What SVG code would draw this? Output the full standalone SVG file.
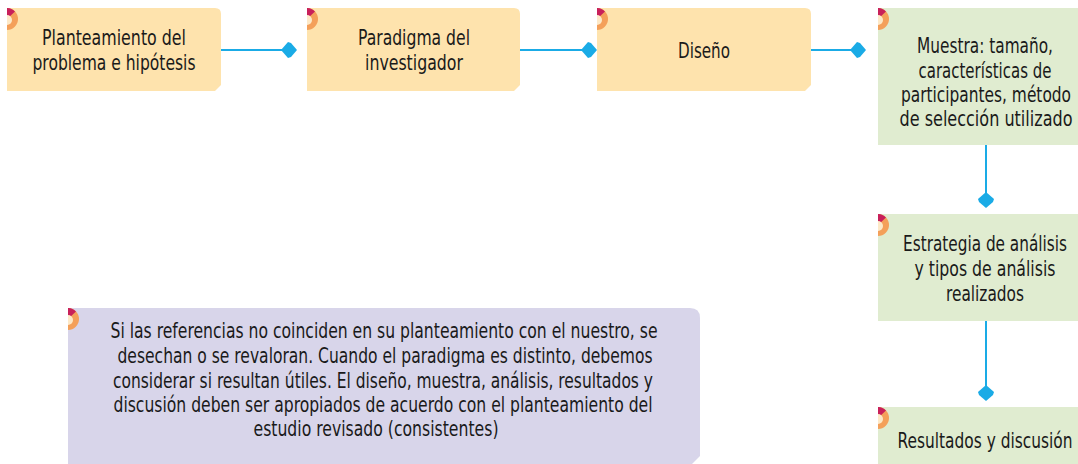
<svg xmlns="http://www.w3.org/2000/svg" width="1078" height="464" viewBox="0 0 1078 464">
<defs>
<style>
.t{font-family:"Liberation Sans Narrow","DejaVu Sans Condensed","Roboto","Liberation Sans",sans-serif;font-stretch:condensed;font-size:22px;fill:#1a1a1a;text-anchor:middle}
.o{fill:#fee3ad}
.g{fill:#e0ecd0}
.p{fill:#d8d5ea}
.c{stroke:#1aabe6;stroke-width:2;fill:none}
.h{fill:#1aabe6}
</style>
<g id="deco">
<circle cx="0" cy="0" r="11" fill="#f4a05a"/>
<path d="M0,0 L-11,0 A11,11 0 0 1 8,-7.5 Z" fill="#c8205a"/>
<circle cx="0" cy="1" r="5" fill="#fde9c8"/>
</g>
<clipPath id="cl"><rect x="0" y="-12" width="14" height="24"/></clipPath>
</defs>
<g id="connectors">
<path class="c" d="M221,50 H284"/>
<path class="h" d="M281,50 L288,42 L291,43 L297,50 L291,57 L288,58 Z"/>
<path class="c" d="M520,50 H584"/>
<path class="h" d="M581,50 L588,42 L591,43 L597,50 L591,57 L588,58 Z"/>
<path class="c" d="M811,50 H853"/>
<path class="h" d="M850,50 L857,42 L860,43 L866,50 L860,57 L857,58 Z"/>
<path class="c" d="M986,145 V195"/>
<path class="h" d="M986,192 L994,199 L993,202 L986,208 L979,202 L978,199 Z"/>
<path class="c" d="M986,321 V388"/>
<path class="h" d="M986,385 L994,392 L993,395 L986,401 L979,395 L978,392 Z"/>
</g>
<g id="n1">
<path class="o" d="M7,8 H215 Q221,8 221,14 V85 L215,91 H7 Z"/>
<use href="#deco" x="7" y="19" clip-path="url(#cl)"/>
<text class="t" x="114" y="45" textLength="144" lengthAdjust="spacingAndGlyphs">Planteamiento del</text>
<text class="t" x="114" y="70" textLength="163" lengthAdjust="spacingAndGlyphs">problema e hipótesis</text>
</g>
<g id="n2">
<path class="o" d="M307,8 H514 Q520,8 520,14 V85 L514,91 H307 Z"/>
<use href="#deco" x="307" y="19" clip-path="url(#cl)"/>
<text class="t" x="414" y="45" textLength="112" lengthAdjust="spacingAndGlyphs">Paradigma del</text>
<text class="t" x="414" y="70" textLength="98" lengthAdjust="spacingAndGlyphs">investigador</text>
</g>
<g id="n3">
<path class="o" d="M597,8 H805 Q811,8 811,14 V85 L805,91 H597 Z"/>
<use href="#deco" x="597" y="19" clip-path="url(#cl)"/>
<text class="t" x="704" y="58" textLength="52" lengthAdjust="spacingAndGlyphs">Diseño</text>
</g>
<g id="n4">
<rect class="g" x="878" y="8" width="200" height="137"/>
<use href="#deco" x="878" y="19" clip-path="url(#cl)"/>
<text class="t" x="985" y="53" textLength="136" lengthAdjust="spacingAndGlyphs">Muestra: tamaño,</text>
<text class="t" x="985" y="78" textLength="133" lengthAdjust="spacingAndGlyphs">características de</text>
<text class="t" x="986" y="102" textLength="170" lengthAdjust="spacingAndGlyphs">participantes, método</text>
<text class="t" x="986" y="126" textLength="173" lengthAdjust="spacingAndGlyphs">de selección utilizado</text>
</g>
<g id="n5">
<rect class="g" x="878" y="214" width="200" height="107"/>
<use href="#deco" x="878" y="225" clip-path="url(#cl)"/>
<text class="t" x="985" y="251" textLength="164" lengthAdjust="spacingAndGlyphs">Estrategia de análisis</text>
<text class="t" x="985" y="276" textLength="141" lengthAdjust="spacingAndGlyphs">y tipos de análisis</text>
<text class="t" x="985" y="301" textLength="78" lengthAdjust="spacingAndGlyphs">realizados</text>
</g>
<g id="n6">
<rect class="g" x="878" y="407" width="200" height="57"/>
<use href="#deco" x="878" y="418" clip-path="url(#cl)"/>
<text class="t" x="985" y="448" textLength="175" lengthAdjust="spacingAndGlyphs">Resultados y discusión</text>
</g>
<g id="note">
<path class="p" d="M68,308 H690 Q700,308 700,318 V456 L692,464 H68 Z"/>
<use href="#deco" x="68" y="319" clip-path="url(#cl)"/>
<text class="t" x="384" y="338" textLength="547" lengthAdjust="spacingAndGlyphs">Si las referencias no coinciden en su planteamiento con el nuestro, se</text>
<text class="t" x="385" y="363" textLength="535" lengthAdjust="spacingAndGlyphs">desechan o se revaloran. Cuando el paradigma es distinto, debemos</text>
<text class="t" x="383" y="388" textLength="540" lengthAdjust="spacingAndGlyphs">considerar si resultan útiles. El diseño, muestra, análisis, resultados y</text>
<text class="t" x="383" y="412" textLength="539" lengthAdjust="spacingAndGlyphs">discusión deben ser apropiados de acuerdo con el planteamiento del</text>
<text class="t" x="376" y="436" textLength="245" lengthAdjust="spacingAndGlyphs">estudio revisado (consistentes)</text>
</g>
</svg>
